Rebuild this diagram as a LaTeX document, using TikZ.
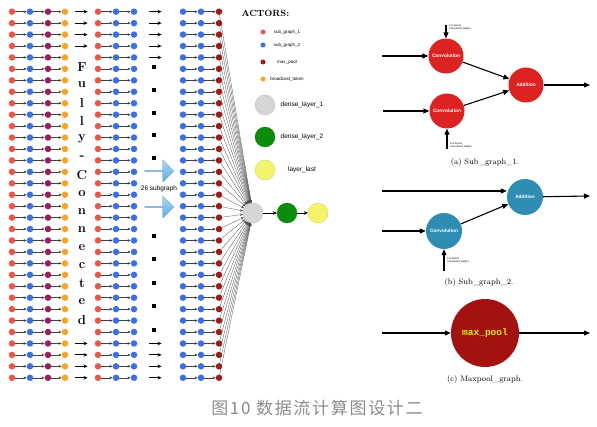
\documentclass[tikz,border=0pt]{standalone}
\usepackage{fontspec}
\setsansfont{Liberation Sans}
\newfontfamily\cjk{Noto Sans CJK SC}[LetterSpace=10]
\newfontfamily\monob{Liberation Mono}
\usetikzlibrary{arrows.meta, shapes.arrows, positioning}

\definecolor{sgred}{HTML}{EE5544}
\definecolor{sgblue}{HTML}{3B6FE8}
\definecolor{mpurple}{HTML}{9A1F5A}
\definecolor{btorange}{HTML}{F5A623}
\definecolor{mpred}{HTML}{A51818}
\definecolor{dlgray}{HTML}{D6D6D6}
\definecolor{dlgreen}{HTML}{0B8C0B}
\definecolor{llyellow}{HTML}{F4F46A}
\definecolor{convred}{HTML}{DD2222}
\definecolor{addteal}{HTML}{2F8DB3}
\definecolor{poolred}{HTML}{A3120E}
\definecolor{poolfont}{HTML}{D2EE10}
\definecolor{arrowblue}{HTML}{5AAEE3}

\tikzset{
  actor/.style={circle, inner sep=0pt, minimum size=6.5pt, fill=#1},
  link/.style={draw=black!75, line width=0.4pt, -{Stealth[length=3pt,width=2.6pt]}},
  stub/.style={line width=0.8pt, -{Stealth[length=4pt,width=3.6pt]}},
  fan/.style={draw=black!70, line width=0.3pt, -{Stealth[length=3pt,width=2.4pt]}},
  ball/.style={circle, inner sep=0pt, minimum size=20pt, fill=#1, draw=#1!85!black, line width=0.3pt},
  opnode/.style={circle, inner sep=0pt, minimum size=35pt, fill=#1, text=white,
                 font=\sffamily\bfseries\fontsize{4.8}{5}\selectfont},
  flow/.style={line width=1.1pt, -{Triangle[length=6pt,width=5pt]}},
  wlabel/.style={font=\sffamily\fontsize{2.6}{3}\selectfont, align=left, anchor=north west, inner sep=0pt},
  lgsmall/.style={font=\sffamily\fontsize{4.5}{5}\selectfont},
  lgbig/.style={font=\sffamily\fontsize{6.5}{7}\selectfont},
  subcap/.style={font=\fontsize{8}{9}\selectfont},
  dots/.style={fill=black, inner sep=0pt, minimum size=4pt},
  bigarrow/.style={single arrow, inner sep=0pt, minimum height=29pt, minimum width=22pt,
                   single arrow head extend=3pt, draw=arrowblue!80!black, line width=0.3pt,
                   top color=arrowblue!50!white, bottom color=arrowblue},
}

\begin{document}
\begin{tikzpicture}[x=1pt, y=-1pt]
  \useasboundingbox (0,0) rectangle (597,427);

  % Constants
  \def\rows{33}   % number of token rows
  \def\gap{11.44} % row spacing

  % dense layers
  \node[ball=dlgray]   (dl1) at (253,213) {};
  \node[ball=dlgreen]  (dl2) at (287,213) {};
  \node[ball=llyellow] (lla) at (318,213) {};
  \draw[stub, line width=0.6pt] (dl1) -- (dl2);
  \draw[stub, line width=0.6pt] (dl2) -- (lla);

  % Loop over the rows of the three blocks
  \foreach \i in {1,...,\rows} {
      \pgfmathsetmacro{\y}{11.7 + \gap*(\i-1)}

      % first block
      \node[actor=sgred]    (a\i) at (12,\y) {};
      \node[actor=sgblue]   (b\i) at (30,\y) {};
      \node[actor=mpurple]  (c\i) at (48,\y) {};
      \node[actor=btorange] (d\i) at (65,\y) {};
      % second block
      \node[actor=sgred]    (e\i) at (98,\y) {};
      \node[actor=sgblue]   (f\i) at (116,\y) {};
      \node[actor=sgblue]   (g\i) at (134,\y) {};
      % last block
      \node[actor=sgblue]   (h\i) at (183,\y) {};
      \node[actor=sgblue]   (k\i) at (201,\y) {};
      \node[actor=mpred]    (m\i) at (219,\y) {};

      \draw[link] (a\i) -- (b\i);
      \draw[link] (b\i) -- (c\i);
      \draw[link] (c\i) -- (d\i);
      \draw[link] (e\i) -- (f\i);
      \draw[link] (f\i) -- (g\i);
      \draw[link] (h\i) -- (k\i);
      \draw[link] (k\i) -- (m\i);
      \draw[fan] (m\i) -- (dl1);
    }

  % short arrows between the blocks
  \foreach \i in {1,2,3,4,30,31,32,33}
      \draw[stub, shorten <=7pt, shorten >=7pt] (d\i) -- (e\i);
  \foreach \i in {1,2,3,4,5,30,31,32,33}
      \draw[stub, shorten <=12pt, shorten >=18pt] (g\i) -- (h\i);

  % vertical label of the first gap
  \foreach \ch [count=\j] in {F,u,l,l,y,-,C,o,n,n,e,c,t,e,d} {
      \pgfmathsetmacro{\ly}{67 + 18.07*(\j-1)}
      \node[font=\bfseries\fontsize{13}{13}\selectfont] (fc\j) at (82,\ly) {\ch};
    }

  % dots of the second gap
  \foreach \yy [count=\j] in {67,90,113,135,158,236,259,283,306,330}
      \node[dots] (sq\j) at (154,\yy) {};

  \node[bigarrow] (ba1) at (159,171) {};
  \node[bigarrow] (ba2) at (159,207) {};
  \node[lgbig, fill=white, inner sep=0.5pt] (sg) at (159,189) {26 subgraph};

  % legend
  \node[font=\bfseries\fontsize{9}{9}\selectfont, anchor=west] (act) at (238,13) {ACTORS:};
  \node[actor=sgred, minimum size=5pt]    (lg1) at (263,32) {};
  \node[actor=sgblue, minimum size=5pt]   (lg2) at (263,45) {};
  \node[actor=mpred, minimum size=5pt]    (lg3) at (263,62) {};
  \node[actor=btorange, minimum size=5pt] (lg4) at (263,79) {};
  \node[lgsmall] (lt1) at (287,32) {sub\_graph\_1};
  \node[lgsmall] (lt2) at (287,45) {sub\_graph\_2};
  \node[lgsmall] (lt3) at (287,62) {max\_pool};
  \node[lgsmall] (lt4) at (287,79) {broadcast\_token};
  \node[ball=dlgray]   (lg5) at (265,105) {};
  \node[ball=dlgreen]  (lg6) at (265,137) {};
  \node[ball=llyellow] (lg7) at (265,170) {};
  \node[lgbig] (lt5) at (302,105) {dense\_layer\_1};
  \node[lgbig] (lt6) at (302,137) {dense\_layer\_2};
  \node[lgbig] (lt7) at (302,170) {layer\_last};

  % (a) Sub_graph_1
  \node[opnode=convred] (cv1) at (446,56) {Convolution};
  \node[opnode=convred] (cv2) at (447,111) {Convolution};
  \node[opnode=convred] (ad1) at (526,85) {Addition};
  \coordinate (in1) at (382,56);
  \coordinate (in2) at (383,111);
  \coordinate (w1) at (446,25);
  \coordinate (w2) at (447,149);
  \coordinate (out1) at (590,85);
  \draw[flow] (in1) -- (cv1);
  \draw[flow] (in2) -- (cv2);
  \draw[flow] (w1) -- (cv1);
  \draw[flow] (w2) -- (cv2);
  \draw[flow] (cv1) -- (ad1);
  \draw[flow] (cv2) -- (ad1);
  \draw[flow] (ad1) -- (out1);
  \node[wlabel] (wl1) at (449,24) {1x1 kernel\\convolution weight};
  \node[wlabel] (wl2) at (450,142) {1x1 kernel\\convolution weight};
  \node[subcap] (capa) at (485,163) {(a) Sub\_graph\_1.};

  % (b) Sub_graph_2
  \node[opnode=addteal, minimum size=36pt] (cv3) at (444,231) {Convolution};
  \node[opnode=addteal, minimum size=36pt] (ad2) at (525,197) {Addition};
  \coordinate (in3) at (382,191);
  \coordinate (in4) at (382,231);
  \coordinate (w3) at (444,271);
  \coordinate (out2) at (590,196);
  \draw[flow] (in3) -- (in3 -| ad2.west);
  \draw[flow] (in4) -- (cv3);
  \draw[flow] (w3) -- (cv3);
  \draw[flow] (cv3) -- (ad2);
  \draw[flow] (ad2) -- (out2);
  \node[wlabel] (wl3) at (447,257) {1x1 kernel\\convolution weight};
  \node[subcap] (capb) at (479,283) {(b) Sub\_graph\_2.};

  % (c) Maxpool_graph
  \node[circle, inner sep=0pt, minimum size=68pt, fill=poolred, text=poolfont,
        font=\monob\bfseries\fontsize{9.5}{10}\selectfont] (mp) at (485,333) {max\_pool};
  \coordinate (in5) at (382,333);
  \coordinate (out3) at (590,333);
  \draw[flow] (in5) -- (mp);
  \draw[flow] (mp) -- (out3);
  \node[subcap] (capc) at (485,380) {(c) Maxpool\_graph.};

  % caption
  \node[font=\cjk\fontsize{17}{17}\selectfont, text=black!45] (cap) at (317,408)
        {图10 数据流计算图设计二};
\end{tikzpicture}
\end{document}
